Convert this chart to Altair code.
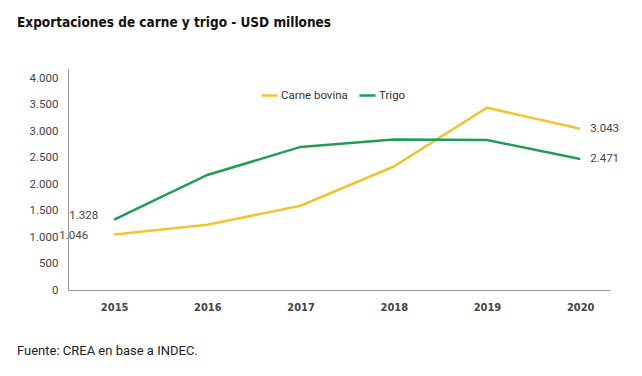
import altair as alt
import pandas as pd

years = [2015, 2016, 2017, 2018, 2019, 2020]
carne = [1046, 1230, 1590, 2330, 3440, 3043]
trigo = [1328, 2170, 2700, 2840, 2830, 2471]
series_names = ["Carne bovina", "Trigo"]
colors = ["#F2C431", "#1F9D58"]
y_ticks = [0, 500, 1000, 1500, 2000, 2500, 3000, 3500, 4000]
title_text = "Exportaciones de carne y trigo - USD millones"
source_text = "Fuente: CREA en base a INDEC."

rows = []
for y, c, t in zip(years, carne, trigo):
    rows.append({"year": y, "serie": "Carne bovina", "value": c})
    rows.append({"year": y, "serie": "Trigo", "value": t})
df = pd.DataFrame(rows)

W, H = 542, 221
COND = "'DejaVu Sans Condensed', 'Roboto Condensed', Roboto, sans-serif"

x = alt.X("year:Q", scale=alt.Scale(domain=[2014.505, 2020.32], nice=False, zero=False),
          axis=alt.Axis(values=years, format="d", title=None, grid=False, ticks=False,
                        labelFont=COND, labelFontSize=11, labelFontWeight="bold",
                        labelColor="#444", labelPadding=11, domainColor="#999", domainWidth=1,
                        labelOverlap=False))
y = alt.Y("value:Q", scale=alt.Scale(domain=[0, 4170], nice=False),
          axis=alt.Axis(values=y_ticks, title=None, grid=False, ticks=False,
                        labelFont="Roboto", labelFontSize=11.5, labelColor="#444", labelPadding=10,
                        domainColor="#999", domainWidth=1, labelOverlap=False,
                        labelExpr="replace(format(datum.value, ',.0f'), ',', '.')"))
color = alt.Color("serie:N", scale=alt.Scale(domain=series_names, range=colors),
                  legend=alt.Legend(title=None, orient="none", legendX=192, legendY=17,
                                    direction="horizontal", symbolType="stroke", symbolStrokeWidth=2.5,
                                    symbolSize=260, labelFont="Roboto", labelFontSize=11.5,
                                    labelColor="#333", columnPadding=6, labelOffset=2))

lines = alt.Chart(df).mark_line(strokeWidth=2.5).encode(x=x, y=y, color=color)

base = alt.Chart(df).transform_calculate(
    lab="replace(format(datum.value, ',.0f'), ',', '.')")

end_lab = base.transform_filter("datum.year == 2020").mark_text(
    align="left", dx=10, font="Roboto", fontSize=11.5, color="#444").encode(
    x=x, y=y, text="lab:N")
start_c = base.transform_filter("datum.year == 2015 && datum.serie == 'Carne bovina'").mark_text(
    align="right", dx=-26, dy=1, font="Roboto", fontSize=11.5, color="#444").encode(
    x=x, y=y, text="lab:N")
start_t = base.transform_filter("datum.year == 2015 && datum.serie == 'Trigo'").mark_text(
    align="right", dx=-16, dy=-4, font="Roboto", fontSize=11.5, color="#444").encode(
    x=x, y=y, text="lab:N")

src = alt.Chart(pd.DataFrame({"t": [source_text]})).mark_text(
    align="left", baseline="middle", font="Roboto", fontSize=13, color="#222").encode(
    x=alt.value(-51), y=alt.value(H + 61), text="t:N")

ttl = alt.Chart(pd.DataFrame({"t": [title_text]})).mark_text(
    align="left", baseline="alphabetic", font=COND, fontSize=13.5, fontWeight="bold",
    color="#111").encode(x=alt.value(-51), y=alt.value(-42), text="t:N")

chart = alt.layer(lines, end_lab, start_c, start_t, src, ttl).properties(
    width=W, height=H,
    background="white",
    autosize=alt.AutoSizeParams(type="none"),
    padding={"left": 68, "top": 69, "right": 32, "bottom": 86},
).configure_view(strokeWidth=0).configure_axis(labelOverlap=False)

chart.save("out.html", embed_options={"renderer": "svg", "actions": False})
